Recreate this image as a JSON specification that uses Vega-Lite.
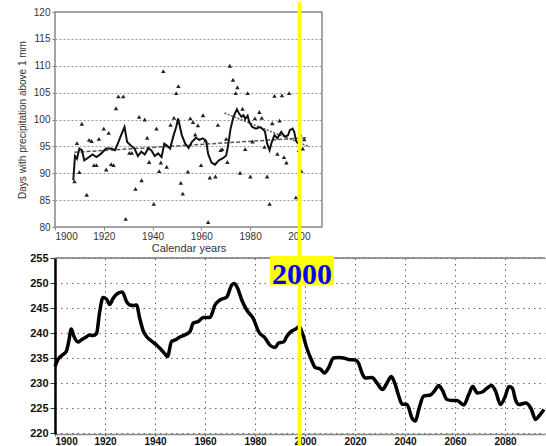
{
  "$schema": "https://vega.github.io/schema/vega-lite/v6.json",
  "background": "white",
  "padding": {"left": 16, "top": 0, "right": 0, "bottom": 0},
  "bounds": "flush",
  "spacing": 31,
  "config": {"font": "Liberation Sans", "view": {"stroke": null}},
  "datasets": {
    "pts": [
      {"year": 1908, "v": 88.5}, {"year": 1909, "v": 95.6}, {"year": 1910, "v": 90.2}, {"year": 1911, "v": 99.2},
      {"year": 1913, "v": 86}, {"year": 1914, "v": 96.2}, {"year": 1915, "v": 96}, {"year": 1916, "v": 91.5},
      {"year": 1917, "v": 91.5}, {"year": 1918, "v": 96.4}, {"year": 1920, "v": 98.3}, {"year": 1921, "v": 90.7},
      {"year": 1922, "v": 97.5}, {"year": 1923, "v": 91.7}, {"year": 1924, "v": 91.5}, {"year": 1925, "v": 102.1},
      {"year": 1926, "v": 104.3}, {"year": 1928, "v": 104.3}, {"year": 1929, "v": 81.5}, {"year": 1930.5, "v": 93.8},
      {"year": 1931.5, "v": 93.8}, {"year": 1933, "v": 87.1}, {"year": 1934.5, "v": 100.5}, {"year": 1935.5, "v": 88.7},
      {"year": 1936.8, "v": 100}, {"year": 1937.8, "v": 96.6}, {"year": 1938.6, "v": 92.1}, {"year": 1940.5, "v": 84.3},
      {"year": 1941.6, "v": 98.3}, {"year": 1942.7, "v": 90.4}, {"year": 1943.4, "v": 92}, {"year": 1944.4, "v": 109},
      {"year": 1945.8, "v": 91.2}, {"year": 1947.4, "v": 99}, {"year": 1948.8, "v": 100.3}, {"year": 1949.7, "v": 104.9},
      {"year": 1950.6, "v": 106.2}, {"year": 1951.6, "v": 88.2}, {"year": 1952.4, "v": 86.2}, {"year": 1954.5, "v": 90.3},
      {"year": 1955.5, "v": 100.2}, {"year": 1956.6, "v": 99.5}, {"year": 1957.5, "v": 97.2}, {"year": 1958.6, "v": 98.9},
      {"year": 1959.9, "v": 91.5}, {"year": 1960.7, "v": 100.8}, {"year": 1961.7, "v": 96.1}, {"year": 1962.8, "v": 80.9},
      {"year": 1963.5, "v": 89.2}, {"year": 1965.8, "v": 89.4}, {"year": 1966.8, "v": 99}, {"year": 1967.9, "v": 94.3},
      {"year": 1968.6, "v": 94.5}, {"year": 1970.2, "v": 96.4}, {"year": 1970.7, "v": 92.1}, {"year": 1971.7, "v": 110},
      {"year": 1973, "v": 107.4}, {"year": 1974.1, "v": 104.9}, {"year": 1974.8, "v": 106}, {"year": 1975.9, "v": 90.1},
      {"year": 1976.9, "v": 102}, {"year": 1978, "v": 94.5}, {"year": 1979, "v": 104.9}, {"year": 1980.1, "v": 89.4},
      {"year": 1981, "v": 95.9}, {"year": 1982, "v": 100.2}, {"year": 1983.8, "v": 101.4}, {"year": 1984.8, "v": 100.3},
      {"year": 1985.9, "v": 94.9}, {"year": 1987, "v": 89.4}, {"year": 1988, "v": 84.3}, {"year": 1989.1, "v": 99.3},
      {"year": 1990, "v": 104.4}, {"year": 1991.2, "v": 93.6}, {"year": 1992.1, "v": 99.8}, {"year": 1993.1, "v": 104.5},
      {"year": 1993.9, "v": 93}, {"year": 1994.9, "v": 92}, {"year": 1996, "v": 104.9}, {"year": 1998.8, "v": 85.5},
      {"year": 2000, "v": 94.3}, {"year": 2000.5, "v": 97.2}, {"year": 2001, "v": 90.4}, {"year": 2001.6, "v": 94.6},
      {"year": 2002.2, "v": 96.3}
    ],
    "smooth": [
      {"year": 1907.5, "v": 88.7}, {"year": 1908.2, "v": 93.2}, {"year": 1909, "v": 92.7}, {"year": 1910, "v": 94.6},
      {"year": 1911, "v": 94.3}, {"year": 1912, "v": 92.4}, {"year": 1913, "v": 92.7}, {"year": 1915.4, "v": 93.5},
      {"year": 1917, "v": 93}, {"year": 1918.8, "v": 93.6}, {"year": 1920.9, "v": 94.6}, {"year": 1923, "v": 94.6},
      {"year": 1924.6, "v": 94.3}, {"year": 1926, "v": 95.8}, {"year": 1927.4, "v": 97.4}, {"year": 1928.5, "v": 98.6},
      {"year": 1929.6, "v": 95.8}, {"year": 1931.2, "v": 95.1}, {"year": 1932.6, "v": 94.6}, {"year": 1934, "v": 93.2},
      {"year": 1935.4, "v": 94}, {"year": 1936.8, "v": 93.5}, {"year": 1938.2, "v": 94.6}, {"year": 1939.5, "v": 94.3},
      {"year": 1940.9, "v": 93.2}, {"year": 1942.3, "v": 93.7}, {"year": 1943.7, "v": 93}, {"year": 1944.8, "v": 95.5},
      {"year": 1945.8, "v": 95.2}, {"year": 1947.2, "v": 94.6}, {"year": 1948.6, "v": 97}, {"year": 1949.7, "v": 98.6},
      {"year": 1950.5, "v": 100.2}, {"year": 1952, "v": 97.1}, {"year": 1953.4, "v": 95.5}, {"year": 1954.8, "v": 94.7},
      {"year": 1956.1, "v": 95.8}, {"year": 1957.8, "v": 96.6}, {"year": 1959.2, "v": 96.2}, {"year": 1960.6, "v": 96.5},
      {"year": 1962, "v": 96}, {"year": 1962.8, "v": 93.6}, {"year": 1964.2, "v": 92}, {"year": 1965.6, "v": 91.6},
      {"year": 1967.2, "v": 92.4}, {"year": 1968.9, "v": 92.8}, {"year": 1970.2, "v": 93.3}, {"year": 1971, "v": 95.2},
      {"year": 1972, "v": 98.3}, {"year": 1973.2, "v": 100.5}, {"year": 1974.6, "v": 101.9}, {"year": 1975.5, "v": 101.1},
      {"year": 1976.5, "v": 100.5}, {"year": 1977.3, "v": 100.8}, {"year": 1978, "v": 100.1}, {"year": 1979, "v": 100.7},
      {"year": 1979.7, "v": 99.5}, {"year": 1980.9, "v": 98.6}, {"year": 1982.4, "v": 98.3}, {"year": 1984.2, "v": 98.6},
      {"year": 1985.2, "v": 98.2}, {"year": 1986.1, "v": 97.8}, {"year": 1987, "v": 95.5}, {"year": 1988, "v": 94.3},
      {"year": 1988.9, "v": 95.8}, {"year": 1990, "v": 97.1}, {"year": 1991.2, "v": 96.5}, {"year": 1992.1, "v": 97.2},
      {"year": 1992.8, "v": 97.7}, {"year": 1993.5, "v": 97.2}, {"year": 1994.5, "v": 96.8}, {"year": 1995.6, "v": 97.1},
      {"year": 1996.3, "v": 98}, {"year": 1997.4, "v": 98.3}, {"year": 1998.1, "v": 97.7}, {"year": 1998.8, "v": 96.1},
      {"year": 1999.7, "v": 95.5}
    ],
    "trend1": [{"year": 1908, "v": 93.9}, {"year": 2003, "v": 96.6}],
    "trend2": [{"year": 1969.5, "v": 101.2}, {"year": 2004.5, "v": 94.9}],
    "one": [{}],
    "proj": [
      {"year": 1900, "v": 233.3}, {"year": 1901.2, "v": 234.7}, {"year": 1903.2, "v": 235.7}, {"year": 1904.5, "v": 236.3},
      {"year": 1905.5, "v": 238.3}, {"year": 1906.5, "v": 240.8}, {"year": 1907.6, "v": 239.3}, {"year": 1909.2, "v": 238.2},
      {"year": 1910.5, "v": 238.6}, {"year": 1912.1, "v": 239.1}, {"year": 1913.9, "v": 239.6}, {"year": 1915.2, "v": 239.5},
      {"year": 1916.6, "v": 239.9}, {"year": 1917.9, "v": 244.3}, {"year": 1919.2, "v": 247.1}, {"year": 1920.6, "v": 246.8},
      {"year": 1921.9, "v": 245.7}, {"year": 1923.2, "v": 246.9}, {"year": 1925, "v": 247.9}, {"year": 1926.9, "v": 248.2},
      {"year": 1928.6, "v": 246.3}, {"year": 1929.9, "v": 245.6}, {"year": 1931.3, "v": 245.5}, {"year": 1932.6, "v": 245.6},
      {"year": 1933.9, "v": 242.9}, {"year": 1935.3, "v": 240.4}, {"year": 1936.6, "v": 239.3}, {"year": 1938.6, "v": 238.4},
      {"year": 1940.6, "v": 237.6}, {"year": 1942.6, "v": 236.6}, {"year": 1944, "v": 235.8}, {"year": 1945, "v": 235.3},
      {"year": 1946.6, "v": 238.3}, {"year": 1948, "v": 238.6}, {"year": 1950, "v": 239.2}, {"year": 1952.3, "v": 239.7},
      {"year": 1954, "v": 240.3}, {"year": 1955.3, "v": 242}, {"year": 1957.3, "v": 242.3}, {"year": 1959.3, "v": 243.1},
      {"year": 1962, "v": 243.1}, {"year": 1964, "v": 245.6}, {"year": 1966, "v": 246.6}, {"year": 1968.7, "v": 247.2},
      {"year": 1970.7, "v": 249.6}, {"year": 1971.6, "v": 249.9}, {"year": 1973.1, "v": 248.9}, {"year": 1974.7, "v": 246.6},
      {"year": 1976.7, "v": 244.6}, {"year": 1979.4, "v": 242.8}, {"year": 1981.4, "v": 240.3}, {"year": 1984, "v": 239},
      {"year": 1986.1, "v": 237.5}, {"year": 1988.1, "v": 237.1}, {"year": 1989.4, "v": 238}, {"year": 1991.4, "v": 238.2},
      {"year": 1992.7, "v": 239.3}, {"year": 1994.7, "v": 240.4}, {"year": 1996.3, "v": 240.8}, {"year": 1997.7, "v": 241.3},
      {"year": 1999, "v": 239.9}, {"year": 2000.7, "v": 237}, {"year": 2002.5, "v": 234.7}, {"year": 2004.1, "v": 233.1},
      {"year": 2006.1, "v": 232.8}, {"year": 2007.8, "v": 232}, {"year": 2009.4, "v": 233}, {"year": 2011.4, "v": 235},
      {"year": 2013.4, "v": 235.1}, {"year": 2015.4, "v": 235}, {"year": 2017.4, "v": 234.7}, {"year": 2020.1, "v": 234.6},
      {"year": 2021.4, "v": 234}, {"year": 2022.8, "v": 232}, {"year": 2024.1, "v": 231}, {"year": 2026.8, "v": 231.1},
      {"year": 2028.8, "v": 230}, {"year": 2031, "v": 228.7}, {"year": 2032.8, "v": 230}, {"year": 2034.5, "v": 231.3},
      {"year": 2035.9, "v": 230}, {"year": 2037.5, "v": 227.4}, {"year": 2038.8, "v": 225.8}, {"year": 2040.8, "v": 225.7},
      {"year": 2042.8, "v": 223}, {"year": 2044.2, "v": 222.4}, {"year": 2045.5, "v": 224.7}, {"year": 2047.5, "v": 227.4},
      {"year": 2050.2, "v": 227.6}, {"year": 2051.9, "v": 228.5}, {"year": 2053.5, "v": 229.5}, {"year": 2054.8, "v": 228.7},
      {"year": 2056.8, "v": 226.7}, {"year": 2058.8, "v": 226.5}, {"year": 2060.8, "v": 226.5}, {"year": 2063.5, "v": 225.6},
      {"year": 2065.5, "v": 227.7}, {"year": 2067.1, "v": 229.3}, {"year": 2068.9, "v": 228}, {"year": 2070.9, "v": 228.2},
      {"year": 2072.9, "v": 229}, {"year": 2074.6, "v": 229.5}, {"year": 2076.2, "v": 228.4}, {"year": 2078.2, "v": 225.7},
      {"year": 2080, "v": 227.2}, {"year": 2081.6, "v": 229.3}, {"year": 2082.9, "v": 229}, {"year": 2084.3, "v": 226.5},
      {"year": 2085.6, "v": 225.7}, {"year": 2088.3, "v": 226}, {"year": 2090.3, "v": 225}, {"year": 2092.3, "v": 222.7},
      {"year": 2093.6, "v": 223.4}, {"year": 2095.6, "v": 224.7}
    ]
  },
  "vconcat": [
    {
      "width": 267,
      "height": 215,
      "view": {"stroke": "#888", "strokeWidth": 1.5},
      "encoding": {
        "x": {
          "field": "year", "type": "quantitative",
          "scale": {"domain": [1900, 2009.5], "nice": false, "zero": false},
          "axis": {
            "values": [1900, 1920, 1940, 1960, 1980, 2000], "format": "d", "grid": false, "domain": false,
            "tickColor": "#888", "tickSize": 3, "labelPadding": 1, "labelFontSize": 10, "labelColor": "#333",
            "title": "Calendar years", "titleFontSize": 11, "titleFontWeight": "normal", "titleColor": "#333", "titlePadding": 1
          }
        },
        "y": {
          "field": "v", "type": "quantitative",
          "scale": {"domain": [80, 120], "nice": false, "zero": false},
          "axis": {
            "values": [80, 85, 90, 95, 100, 105, 110, 115, 120], "grid": true, "gridDash": [2, 2], "gridColor": "#999",
            "domain": false, "tickColor": "#888", "tickSize": 3, "labelPadding": 2, "labelFontSize": 10, "labelColor": "#333",
            "labelOverlap": false,
            "title": "Days with precipitation above 1 mm", "titleFontSize": 10, "titleFontWeight": "normal",
            "titleColor": "#333", "titlePadding": 6
          }
        }
      },
      "layer": [
        {"data": {"name": "trend1"}, "mark": {"type": "line", "color": "#555", "strokeWidth": 1.5, "strokeDash": [4, 2]}},
        {"data": {"name": "trend2"}, "mark": {"type": "line", "color": "#555", "strokeWidth": 1.5, "strokeDash": [2, 1.5]}},
        {"data": {"name": "smooth"}, "mark": {"type": "line", "color": "#111", "strokeWidth": 2}},
        {"data": {"name": "pts"}, "mark": {"type": "point", "shape": "triangle-up", "filled": true, "color": "#222", "size": 20, "opacity": 1}}
      ]
    },
    {
      "width": 490,
      "height": 176,
      "encoding": {
        "x": {
          "type": "quantitative",
          "scale": {"domain": [1900, 2096], "nice": false, "zero": false},
          "axis": {
            "values": [1900, 1920, 1940, 1960, 1980, 2000, 2020, 2040, 2060, 2080], "format": "d",
            "grid": true, "gridDash": [1.5, 4], "gridColor": "#666", "domainColor": "#888", "domainWidth": 1.5,
            "tickSize": 2, "tickColor": "#666", "labelPadding": 0, "labelFontSize": 10, "labelFontWeight": "bold",
            "labelColor": "#111", "labelOverlap": false, "title": null
          }
        },
        "y": {
          "type": "quantitative",
          "scale": {"domain": [219.8, 255], "nice": false, "zero": false},
          "axis": {
            "values": [220, 225, 230, 235, 240, 245, 250, 255], "grid": true, "gridDash": [1.5, 4], "gridColor": "#666",
            "domainColor": "black", "domainWidth": 2.5, "tickSize": 5, "tickColor": "#333", "labelPadding": 2,
            "labelFontSize": 11, "labelFontWeight": "bold", "labelColor": "#111", "labelOverlap": false, "title": null
          }
        }
      },
      "layer": [
        {
          "data": {"name": "proj"},
          "mark": {"type": "line", "color": "black", "strokeWidth": 3.5, "interpolate": "monotone"},
          "encoding": {
            "x": {"field": "year"},
            "y": {"field": "v"}
          }
        },
        {
          "data": {"name": "one"},
          "mark": {"type": "rule", "color": "#777", "strokeWidth": 1.5},
          "encoding": {"x": null, "y": {"datum": 255}}
        },
        {
          "data": {"name": "one"},
          "mark": {"type": "rule", "color": "#ffff00", "strokeWidth": 3.5},
          "encoding": {
            "x": {"datum": 1997.8},
            "y": {"datum": 306.2},
            "y2": {"datum": 217.0}
          }
        },
        {
          "data": {"name": "one"},
          "mark": {"type": "rect", "color": "#ffff00"},
          "encoding": {
            "x": {"datum": 1986},
            "x2": {"datum": 2011.6},
            "y": {"datum": 255.4},
            "y2": {"datum": 249.6}
          }
        },
        {
          "data": {"name": "one"},
          "mark": {"type": "text", "text": "2000", "font": "Liberation Serif", "fontWeight": "bold", "fontSize": 30, "color": "#0000ff", "align": "center", "baseline": "alphabetic"},
          "encoding": {
            "x": {"datum": 1998.8},
            "y": {"datum": 249.9}
          }
        }
      ]
    }
  ]
}
